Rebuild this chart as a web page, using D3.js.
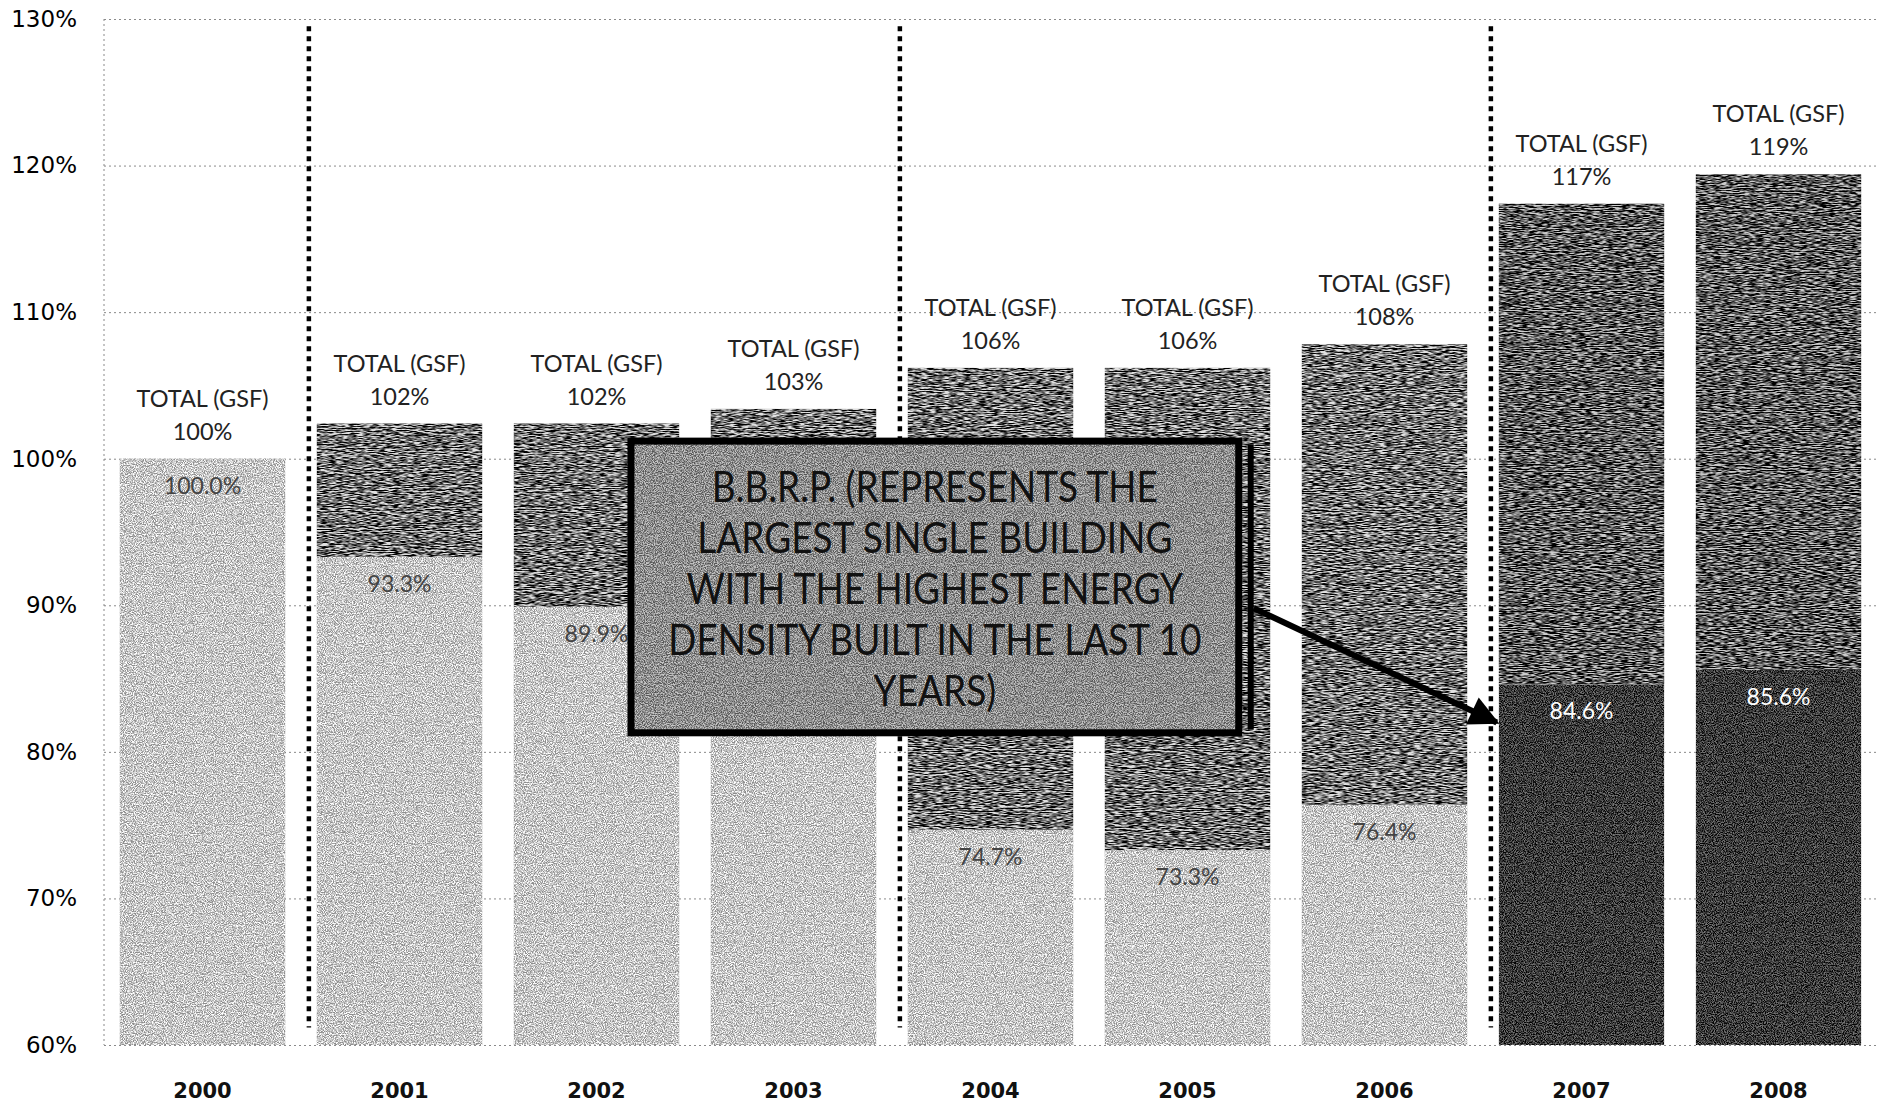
<!DOCTYPE html>
<html>
<head>
<meta charset="utf-8">
<script src="https://d3js.org/d3.v7.min.js"></script>
<style>
  body { margin: 0; background: #fff; }
  .ytick text { font: 23px "DejaVu Sans", Verdana, sans-serif; fill: #000; }
  .xtick text { font: bold 21px "DejaVu Sans", Verdana, sans-serif; fill: #111; }
  .total { font: 23.5px Lato, "Open Sans", sans-serif; fill: #222; }
  .inner { font: 23px Lato, "Open Sans", sans-serif; }
  .callout { font: 43px Lato, "Open Sans", sans-serif; fill: #111; }
</style>
</head>
<body>
<svg width="1877" height="1103"></svg>
<script>
// data
var years = ["2000", "2001", "2002", "2003", "2004", "2005", "2006", "2007", "2008"];
var baseShare = [100.0, 93.3, 89.9, 87.0, 74.7, 73.3, 76.4, 84.6, 85.6];   // lower segment, %
var totalGsf = [100.0, 102.4, 102.4, 103.4, 106.2, 106.2, 107.8, 117.4, 119.4]; // bar top, %
var yTicks = [60, 70, 80, 90, 100, 110, 120, 130];
var dividerAfter = ["2000", "2003", "2006"];
var bbrpYears = ["2007", "2008"];
var calloutLines = [
  "B.B.R.P. (REPRESENTS THE",
  "LARGEST SINGLE BUILDING",
  "WITH THE HIGHEST ENERGY",
  "DENSITY BUILT IN THE LAST 10",
  "YEARS)"
];

var svg = d3.select("svg"),
    width = +svg.attr("width"),
    height = +svg.attr("height");

var plotL = 104, plotR = 1877, plotT = 19, plotB = 1045;

var x = d3.scaleBand().domain(years).range([plotL, plotR])
    .paddingInner(0.16).paddingOuter(0.08);
var y = d3.scaleLinear().domain([60, 130]).range([plotB, plotT]);
// continuous position in "category steps", for the annotation
var xs = function(i) { return plotL + i * x.step(); };

// scan-ish grain
var defs = svg.append("defs");
function grain(id, freq, amp) {
  var f = defs.append("filter").attr("id", id)
      .attr("x", 0).attr("y", 0).attr("width", 1).attr("height", 1)
      .attr("color-interpolation-filters", "sRGB");
  f.append("feTurbulence").attr("type", "fractalNoise")
      .attr("baseFrequency", freq).attr("numOctaves", 2).attr("seed", 7).attr("result", "noise");
  f.append("feColorMatrix").attr("in", "noise").attr("type", "matrix")
      .attr("values", "3 0 0 0 -1  3 0 0 0 -1  3 0 0 0 -1  0 0 0 0 1").attr("result", "g");
  f.append("feComposite").attr("in", "SourceGraphic").attr("in2", "g")
      .attr("operator", "arithmetic").attr("k1", 0).attr("k2", 1)
      .attr("k3", amp).attr("k4", -amp / 2).attr("result", "mix");
  f.append("feComposite").attr("in", "mix").attr("in2", "SourceGraphic").attr("operator", "in");
}
grain("fine", "0.9", 0.45);
grain("streak", "0.14 0.95", 0.9);

defs.append("marker").attr("id", "head")
    .attr("viewBox", "0 0 10 10").attr("refX", 9).attr("refY", 5)
    .attr("markerWidth", 6).attr("markerHeight", 5).attr("orient", "auto")
  .append("path").attr("d", "M0,0L10,5L0,10z").attr("fill", "#000");

// gridlines
svg.append("g")
    .attr("transform", "translate(" + plotL + ",0)")
    .call(d3.axisLeft(y).tickValues(yTicks).tickSize(-(plotR - plotL)).tickFormat(""))
    .call(function(g) { g.select(".domain").remove(); })
    .selectAll("line")
    .attr("stroke", "#8a8a8a").attr("stroke-width", 1).attr("stroke-dasharray", "2,3");

svg.append("line")
    .attr("x1", plotL).attr("x2", plotL).attr("y1", y(130)).attr("y2", y(60))
    .attr("stroke", "#8a8a8a").attr("stroke-dasharray", "2,3");

// y labels
svg.append("g")
    .attr("class", "ytick")
    .attr("transform", "translate(" + plotL + ",0)")
    .call(d3.axisLeft(y).tickValues(yTicks).tickSize(0).tickPadding(27)
      .tickFormat(function(d) { return d + "%"; }))
    .call(function(g) { g.select(".domain").remove(); });

// x labels
svg.append("g")
    .attr("class", "xtick")
    .attr("transform", "translate(0," + plotB + ")")
    .call(d3.axisBottom(x).tickSize(0).tickPadding(38))
    .call(function(g) { g.select(".domain").remove(); });

var rows = years.map(function(yr, i) {
  return { year: yr, base: baseShare[i], total: totalGsf[i], bbrp: bbrpYears.indexOf(yr) >= 0 };
});

// lower segments
svg.append("g").selectAll("rect")
  .data(rows).enter().append("rect")
    .attr("x", function(d) { return x(d.year); })
    .attr("width", x.bandwidth())
    .attr("y", function(d) { return y(d.base); })
    .attr("height", function(d) { return y(60) - y(d.base); })
    .attr("fill", function(d) { return d.bbrp ? "#3a3a3a" : "#c6c6c6"; })
    .attr("filter", "url(#fine)");

// upper segments
svg.append("g").selectAll("rect")
  .data(rows.filter(function(d) { return d.total > d.base; })).enter().append("rect")
    .attr("x", function(d) { return x(d.year); })
    .attr("width", x.bandwidth())
    .attr("y", function(d) { return y(d.total); })
    .attr("height", function(d) { return y(d.base) - y(d.total); })
    .attr("fill", function(d) { return d.bbrp ? "#595959" : "#6e6e6e"; })
    .attr("filter", "url(#streak)");

// value inside the lower segment
svg.append("g").selectAll("text")
  .data(rows).enter().append("text")
    .attr("class", "inner")
    .attr("x", function(d) { return x(d.year) + x.bandwidth() / 2; })
    .attr("y", function(d) { return y(d.base) + 35; })
    .attr("text-anchor", "middle")
    .attr("fill", function(d) { return d.bbrp ? "#fff" : "#444"; })
    .attr("font-weight", function(d) { return d.bbrp ? "bold" : "normal"; })
    .text(function(d) { return d.base.toFixed(1) + "%"; });

// totals above
var tot = svg.append("g").selectAll("text")
  .data(rows).enter().append("text")
    .attr("class", "total")
    .attr("text-anchor", "middle")
    .attr("x", function(d) { return x(d.year) + x.bandwidth() / 2; })
    .attr("y", function(d) { return y(d.total) - 52; });
tot.append("tspan").text("TOTAL (GSF)");
tot.append("tspan")
    .attr("x", function(d) { return x(d.year) + x.bandwidth() / 2; })
    .attr("dy", 33)
    .text(function(d) { return Math.round(d.total) + "%"; });

// dotted dividers
svg.append("g").selectAll("line")
  .data(dividerAfter).enter().append("line")
    .attr("x1", function(d) { return x(d) + x.bandwidth() + x.step() * 0.12; })
    .attr("x2", function(d) { return x(d) + x.bandwidth() + x.step() * 0.12; })
    .attr("y1", y(129.5)).attr("y2", y(61.2))
    .attr("stroke", "#000").attr("stroke-width", 4.5).attr("stroke-dasharray", "5,5");

// callout
var bx0 = xs(2.675), bx1 = xs(5.76), by0 = y(101.2), by1 = y(81.3);
svg.append("rect")
    .attr("x", bx0).attr("y", by0).attr("width", bx1 - bx0).attr("height", by1 - by0)
    .attr("fill", "#8e8e8e").attr("filter", "url(#fine)");
svg.append("rect")
    .attr("x", bx0).attr("y", by0).attr("width", bx1 - bx0).attr("height", by1 - by0)
    .attr("fill", "none").attr("stroke", "#000").attr("stroke-width", 7);
svg.append("line")
    .attr("x1", bx1 + 12).attr("x2", bx1 + 12).attr("y1", by0 + 3).attr("y2", by1 - 3)
    .attr("stroke", "#000").attr("stroke-width", 6);

var cx = (bx0 + bx1) / 2, cy = (by0 + by1) / 2;
svg.append("g").selectAll("text")
  .data(calloutLines).enter().append("text")
    .attr("class", "callout")
    .attr("text-anchor", "middle")
    .attr("transform", function(d, i) {
      return "translate(" + cx + "," + (cy + (i - 2) * 51 + 17) + ") scale(0.86,1)";
    })
    .text(function(d) { return d; });

svg.append("line")
    .attr("x1", bx1 + 15).attr("y1", y(89.8))
    .attr("x2", x("2007") - 2).attr("y2", y(82.0))
    .attr("stroke", "#000").attr("stroke-width", 6)
    .attr("marker-end", "url(#head)");
</script>
</body>
</html>
